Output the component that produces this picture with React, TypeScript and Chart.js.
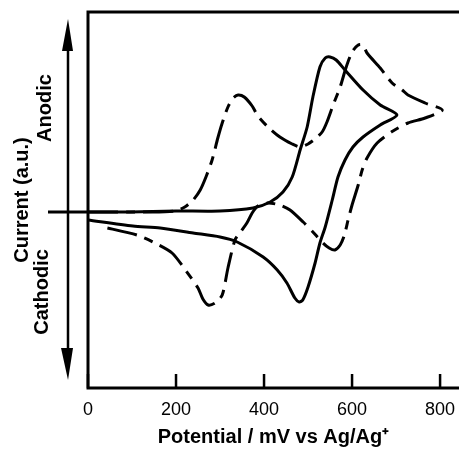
import React, { useEffect, useRef } from "react";
import { Chart, registerables } from "chart.js";

Chart.register(...registerables);

// ---- data (potential in mV, current in arbitrary units) ----
const xTickValues = [0, 200, 400, 600, 800];

const solidPotential = [
  0, 95, 200, 300, 375, 414, 443, 464, 482, 498, 511, 527, 539, 550, 564, 584, 625, 664, 702,
  664, 625, 602, 584, 568, 555, 539, 527, 516, 500, 488, 480, 470, 452, 430, 398, 339, 300, 239, 164, 102, 0,
];
const solidCurrent = [
  0, 0, 1, 1, 4, 10, 20, 35, 62, 85, 115, 145, 154, 155, 152, 142, 122, 107, 97,
  87, 75, 65, 52, 35, 12, -15, -31, -51, -75, -88, -90, -86, -71, -58, -45, -30, -25, -21, -16, -14, -8,
];

const dashPotential = [
  0, 141, 198, 220, 239, 255, 268, 282, 295, 305, 318, 330, 341, 355, 373, 386, 409, 436, 464, 482,
  500, 516, 532, 543, 557, 573, 586, 600, 614, 625, 634, 664, 691, 714, 727, 766, 805,
  766, 727, 693, 657, 634, 623, 614, 600, 591, 582, 573, 561, 548, 534, 511, 489, 459, 436, 409,
  386, 373, 361, 348, 334, 318, 305, 289, 273, 261, 250, 223, 191, 152, 111, 34,
];
const dashCurrent = [
  0, 0, 1, 5, 12, 22, 35, 52, 74, 89, 105, 114, 117, 115, 106, 96, 85, 75, 68, 65,
  68, 73, 80, 90, 107, 125, 144, 160, 167, 167, 159, 144, 129, 122, 117, 109, 102,
  94, 89, 81, 69, 54, 42, 27, 7, -8, -24, -33, -38, -36, -31, -20, -10, 2, 7, 9,
  6, -1, -11, -19, -28, -56, -83, -91, -93, -87, -76, -59, -41, -31, -23, -15,
];

const xMin = 0;
const xMax = 843;
const yMin = -176;
const yMax = 200;

const xTitle = "Potential / mV vs Ag/Ag\u207A";
const yTitle = "Current (a.u.)";
const anodicLabel = "Anodic";
const cathodicLabel = "Cathodic";

const FONT = '"Liberation Sans", Arial, Helvetica, sans-serif';

const toPoints = (xs: number[], ys: number[]) => xs.map((x, i) => ({ x, y: ys[i] }));

const framePlugin = {
  id: "cvFrame",
  afterDraw(chart: any) {
    const { ctx, chartArea: a, scales } = chart;
    const xs = scales.x;
    const ys = scales.y;
    ctx.save();
    ctx.strokeStyle = "#000";
    ctx.fillStyle = "#000";
    ctx.lineCap = "butt";

    // frame: top, left, bottom
    ctx.lineWidth = 3;
    ctx.beginPath();
    ctx.moveTo(a.right + 2, a.top);
    ctx.lineTo(a.left, a.top);
    ctx.lineTo(a.left, a.bottom);
    ctx.lineTo(a.right + 2, a.bottom);
    ctx.stroke();

    // inward tick marks
    ctx.lineWidth = 2.5;
    xTickValues.forEach((v) => {
      const px = xs.getPixelForValue(v);
      ctx.beginPath();
      ctx.moveTo(px, a.bottom);
      ctx.lineTo(px, a.bottom - 14);
      ctx.stroke();
    });

    // zero-current reference stub
    const y0 = ys.getPixelForValue(0);
    ctx.lineWidth = 3;
    ctx.beginPath();
    ctx.moveTo(a.left - 40, y0);
    ctx.lineTo(a.left, y0);
    ctx.stroke();

    // double-headed arrow
    const ax = a.left - 20;
    const tipTop = a.top + 7;
    const tipBot = a.bottom - 8;
    ctx.lineWidth = 2.5;
    ctx.beginPath();
    ctx.moveTo(ax, tipTop + 20);
    ctx.lineTo(ax, tipBot - 20);
    ctx.stroke();
    ctx.beginPath();
    ctx.moveTo(ax, tipTop);
    ctx.lineTo(ax - 6, tipTop + 32);
    ctx.lineTo(ax + 5, tipTop + 32);
    ctx.closePath();
    ctx.fill();
    ctx.beginPath();
    ctx.moveTo(ax, tipBot);
    ctx.lineTo(ax - 7, tipBot - 32);
    ctx.lineTo(ax + 5, tipBot - 32);
    ctx.closePath();
    ctx.fill();

    // Anodic / Cathodic labels
    ctx.font = `bold 20px ${FONT}`;
    ctx.textAlign = "center";
    ctx.textBaseline = "middle";
    ctx.save();
    ctx.translate(a.left - 43, a.top + 96);
    ctx.rotate(-Math.PI / 2);
    ctx.fillText(anodicLabel, 0, 0);
    ctx.restore();
    ctx.save();
    ctx.translate(a.left - 46, a.top + 280);
    ctx.rotate(-Math.PI / 2);
    ctx.fillText(cathodicLabel, 0, 0);
    ctx.restore();

    ctx.restore();
  },
};

export default function App() {
  const ref = useRef<HTMLCanvasElement | null>(null);

  useEffect(() => {
    if (!ref.current) return;
    const chart = new Chart(ref.current, {
      type: "scatter",
      data: {
        datasets: [
          {
            label: "solid",
            data: toPoints(solidPotential, solidCurrent),
            showLine: true,
            borderColor: "#000",
            borderWidth: 3,
            pointRadius: 0,
            tension: 0.25,
            fill: false,
          },
          {
            label: "dash-dot",
            data: toPoints(dashPotential, dashCurrent),
            showLine: true,
            borderColor: "#000",
            borderWidth: 3,
            borderDash: [30, 8, 9, 8],
            pointRadius: 0,
            tension: 0.25,
            fill: false,
          },
        ],
      },
      options: {
        responsive: false,
        animation: false,
        layout: { padding: { top: 12, right: 0, bottom: 0, left: 0 } },
        plugins: {
          legend: { display: false },
          tooltip: { enabled: false },
        },
        scales: {
          x: {
            type: "linear",
            min: xMin,
            max: xMax,
            afterBuildTicks: (s: any) => {
              s.ticks = xTickValues.map((v) => ({ value: v }));
            },
            afterFit: (s: any) => {
              s.height = 61;
            },
            grid: {
              display: true,
              drawOnChartArea: false,
              drawTicks: true,
              tickLength: 11,
              color: "rgba(0,0,0,0)",
            },
            border: { display: false },
            ticks: {
              padding: 0,
              color: "#000",
              font: { family: FONT, size: 18 },
              maxRotation: 0,
              callback: (v: any) => String(v),
            },
            title: {
              display: true,
              text: xTitle,
              color: "#000",
              font: { family: FONT, size: 20, weight: "bold" },
              padding: { top: 0, bottom: 0 },
            },
          },
          y: {
            type: "linear",
            min: yMin,
            max: yMax,
            afterFit: (s: any) => {
              s.width = 88;
            },
            grid: { display: false, drawTicks: false },
            border: { display: false },
            ticks: { display: false },
            title: {
              display: true,
              text: yTitle,
              color: "#000",
              font: { family: FONT, size: 20, weight: "bold" },
              padding: { top: 10, bottom: 0 },
            },
          },
        },
      },
      plugins: [framePlugin],
    } as any);
    return () => chart.destroy();
  }, []);

  return (
    <div style={{ position: "fixed", left: 0, top: 0, width: 459, height: 449, background: "#fff" }}>
      <canvas ref={ref} width={459} height={449} />
    </div>
  );
}
